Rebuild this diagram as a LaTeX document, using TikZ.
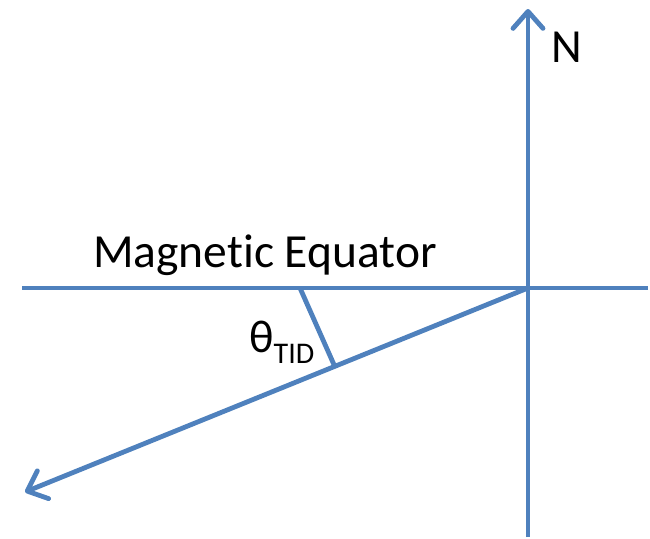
\documentclass[tikz,border=0pt]{standalone}
\usepackage{fontspec}
\setmainfont{Carlito}[Ligatures=NoCommon]
\usetikzlibrary{arrows.meta}
\definecolor{axisblue}{HTML}{4F81BD}
\begin{document}
\begin{tikzpicture}[x=1pt,y=-1pt,
  axis/.style={draw=axisblue,line width=4.8pt},
  tip/.style={-{Straight Barb[length=17pt,width=30pt,line width=4.8pt,round]}},
  lbl/.style={inner sep=0pt,anchor=base west,font=\fontsize{47.5}{57}\selectfont}]
\useasboundingbox (0,0) rectangle (650,538);
\coordinate (O) at (528,288);
\coordinate (top) at (528,9);
\coordinate (bot) at (528,537);
\coordinate (eqL) at (22,288);
\coordinate (eqR) at (648,288);
\coordinate (dirEnd) at (25,492);
\coordinate (a1) at (300,288);
\coordinate (a2) at (335,367);
\draw[axis,tip] (bot) -- (top);
\draw[axis] (eqL) -- (eqR);
\draw[axis,tip] (O) -- (dirEnd);
\draw[axis] (a1) -- (a2);
\node[lbl] (N) at (551,62) {N};
\node[lbl] (eq) at (93,267) {Magnetic Equator};
\node[lbl,font=\fontsize{46}{55}\selectfont] (theta) at (249,352) {θ\raisebox{-11pt}{\fontsize{30}{36}\selectfont TID}};
\end{tikzpicture}
\end{document}
